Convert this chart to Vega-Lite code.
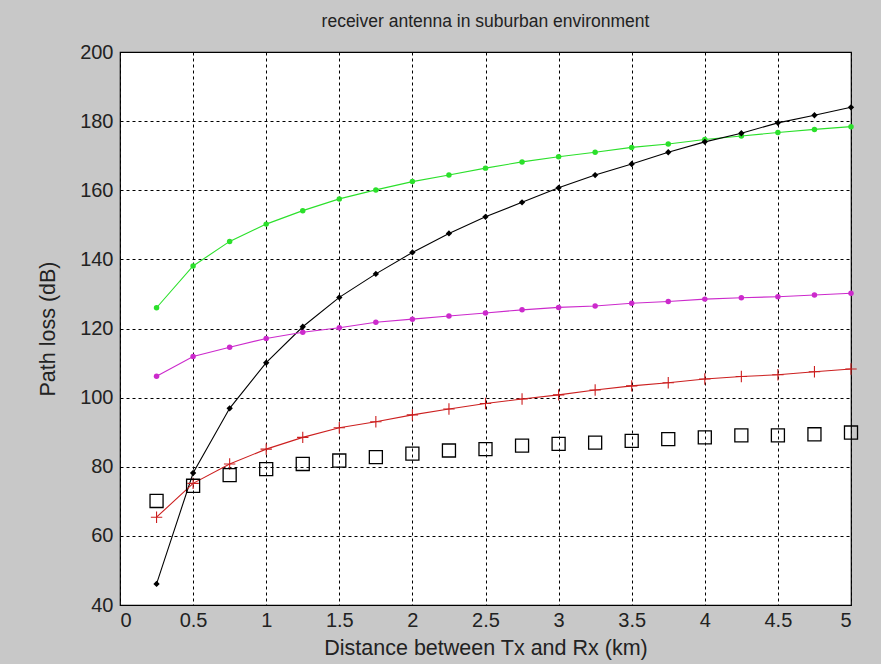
{
  "$schema": "https://vega.github.io/schema/vega-lite/v6.json",
  "width": 731,
  "height": 553,
  "autosize": {"type": "none"},
  "padding": {"left": 120, "top": 52, "right": 30, "bottom": 59},
  "background": "#c8c8c8",
  "title": {"text": "receiver antenna in suburban environment", "fontSize": 17.5, "fontWeight": "normal", "font": "Liberation Sans", "color": "#222222", "offset": 12},
  "data": {"values": [
    {"d":0.25,"loss":126.0,"s":"green"},{"d":0.5,"loss":138.1,"s":"green"},{"d":0.75,"loss":145.2,"s":"green"},{"d":1.0,"loss":150.2,"s":"green"},{"d":1.25,"loss":154.1,"s":"green"},{"d":1.5,"loss":157.5,"s":"green"},{"d":1.75,"loss":160.1,"s":"green"},{"d":2.0,"loss":162.5,"s":"green"},{"d":2.25,"loss":164.4,"s":"green"},{"d":2.5,"loss":166.4,"s":"green"},{"d":2.75,"loss":168.2,"s":"green"},{"d":3.0,"loss":169.7,"s":"green"},{"d":3.25,"loss":171.0,"s":"green"},{"d":3.5,"loss":172.4,"s":"green"},{"d":3.75,"loss":173.4,"s":"green"},{"d":4.0,"loss":174.7,"s":"green"},{"d":4.25,"loss":175.7,"s":"green"},{"d":4.5,"loss":176.7,"s":"green"},{"d":4.75,"loss":177.6,"s":"green"},{"d":5.0,"loss":178.4,"s":"green"},
    {"d":0.25,"loss":46.1,"s":"black"},{"d":0.5,"loss":78.2,"s":"black"},{"d":0.75,"loss":96.9,"s":"black"},{"d":1.0,"loss":110.1,"s":"black"},{"d":1.25,"loss":120.5,"s":"black"},{"d":1.5,"loss":129.0,"s":"black"},{"d":1.75,"loss":135.8,"s":"black"},{"d":2.0,"loss":142.0,"s":"black"},{"d":2.25,"loss":147.5,"s":"black"},{"d":2.5,"loss":152.3,"s":"black"},{"d":2.75,"loss":156.5,"s":"black"},{"d":3.0,"loss":160.7,"s":"black"},{"d":3.25,"loss":164.4,"s":"black"},{"d":3.5,"loss":167.6,"s":"black"},{"d":3.75,"loss":171.0,"s":"black"},{"d":4.0,"loss":174.0,"s":"black"},{"d":4.25,"loss":176.5,"s":"black"},{"d":4.5,"loss":179.5,"s":"black"},{"d":4.75,"loss":181.7,"s":"black"},{"d":5.0,"loss":184.0,"s":"black"},
    {"d":0.25,"loss":106.2,"s":"magenta"},{"d":0.5,"loss":111.9,"s":"magenta"},{"d":0.75,"loss":114.6,"s":"magenta"},{"d":1.0,"loss":117.1,"s":"magenta"},{"d":1.25,"loss":118.9,"s":"magenta"},{"d":1.5,"loss":120.2,"s":"magenta"},{"d":1.75,"loss":121.8,"s":"magenta"},{"d":2.0,"loss":122.7,"s":"magenta"},{"d":2.25,"loss":123.6,"s":"magenta"},{"d":2.5,"loss":124.5,"s":"magenta"},{"d":2.75,"loss":125.4,"s":"magenta"},{"d":3.0,"loss":126.1,"s":"magenta"},{"d":3.25,"loss":126.5,"s":"magenta"},{"d":3.5,"loss":127.3,"s":"magenta"},{"d":3.75,"loss":127.8,"s":"magenta"},{"d":4.0,"loss":128.5,"s":"magenta"},{"d":4.25,"loss":128.9,"s":"magenta"},{"d":4.5,"loss":129.2,"s":"magenta"},{"d":4.75,"loss":129.7,"s":"magenta"},{"d":5.0,"loss":130.2,"s":"magenta"},
    {"d":0.25,"loss":65.4,"s":"red"},{"d":0.5,"loss":75.2,"s":"red"},{"d":0.75,"loss":80.8,"s":"red"},{"d":1.0,"loss":85.1,"s":"red"},{"d":1.25,"loss":88.5,"s":"red"},{"d":1.5,"loss":91.3,"s":"red"},{"d":1.75,"loss":93.0,"s":"red"},{"d":2.0,"loss":95.0,"s":"red"},{"d":2.25,"loss":96.7,"s":"red"},{"d":2.5,"loss":98.3,"s":"red"},{"d":2.75,"loss":99.6,"s":"red"},{"d":3.0,"loss":100.8,"s":"red"},{"d":3.25,"loss":102.2,"s":"red"},{"d":3.5,"loss":103.4,"s":"red"},{"d":3.75,"loss":104.3,"s":"red"},{"d":4.0,"loss":105.4,"s":"red"},{"d":4.25,"loss":106.1,"s":"red"},{"d":4.5,"loss":106.6,"s":"red"},{"d":4.75,"loss":107.5,"s":"red"},{"d":5.0,"loss":108.3,"s":"red"},
    {"d":0.25,"loss":70.1,"s":"square"},{"d":0.5,"loss":74.5,"s":"square"},{"d":0.75,"loss":77.6,"s":"square"},{"d":1.0,"loss":79.3,"s":"square"},{"d":1.25,"loss":80.8,"s":"square"},{"d":1.5,"loss":81.8,"s":"square"},{"d":1.75,"loss":82.8,"s":"square"},{"d":2.0,"loss":83.8,"s":"square"},{"d":2.25,"loss":84.7,"s":"square"},{"d":2.5,"loss":85.1,"s":"square"},{"d":2.75,"loss":86.1,"s":"square"},{"d":3.0,"loss":86.6,"s":"square"},{"d":3.25,"loss":87.0,"s":"square"},{"d":3.5,"loss":87.5,"s":"square"},{"d":3.75,"loss":88.0,"s":"square"},{"d":4.0,"loss":88.5,"s":"square"},{"d":4.25,"loss":89.1,"s":"square"},{"d":4.5,"loss":89.1,"s":"square"},{"d":4.75,"loss":89.4,"s":"square"},{"d":5.0,"loss":89.9,"s":"square"}
  ]},
  "encoding": {
    "x": {"field": "d", "type": "quantitative", "title": "Distance between Tx and Rx (km)",
          "scale": {"domain": [0, 5], "nice": false},
          "axis": {"values": [0,0.5,1,1.5,2,2.5,3,3.5,4,4.5,5], "format": "~g", "labelPadding": 5, "titlePadding": 7}},
    "y": {"field": "loss", "type": "quantitative", "title": "Path loss (dB)",
          "scale": {"domain": [40, 200], "nice": false},
          "axis": {"values": [40,60,80,100,120,140,160,180,200], "labelPadding": 7, "titlePadding": 20}},
    "color": {"field": "s", "type": "nominal", "legend": null,
              "scale": {"domain": ["green","black","magenta","red","square"], "range": ["#2be02b","#000000","#cc2acc","#cc1f1f","#000000"]}}
  },
  "layer": [
    {"transform": [{"filter": "datum.s !== 'square'"}], "mark": {"type": "line", "strokeWidth": 1.1}},
    {"transform": [{"filter": {"field": "s", "oneOf": ["green","magenta"]}}], "mark": {"type": "point", "shape": "circle", "filled": true, "size": 30, "opacity": 1}},
    {"transform": [{"filter": {"field": "s", "equal": "black"}}], "mark": {"type": "point", "shape": "diamond", "filled": true, "size": 40, "opacity": 1}},
    {"transform": [{"filter": {"field": "s", "equal": "red"}}], "mark": {"type": "point", "shape": "M-1,0L1,0M0,-1L0,1", "filled": false, "size": 130, "strokeWidth": 1.1, "opacity": 1}},
    {"transform": [{"filter": {"field": "s", "equal": "square"}}], "mark": {"type": "point", "shape": "square", "filled": false, "size": 170, "strokeWidth": 1.3, "opacity": 1}}
  ],
  "config": {
    "view": {"fill": "#ffffff", "stroke": "#000000", "strokeWidth": 1.2},
    "axis": {"domain": false, "ticks": false, "grid": true, "gridColor": "#000000", "gridDash": [3, 3], "gridOpacity": 1, "gridWidth": 1,
             "labelFont": "Liberation Sans", "labelFontSize": 20, "labelColor": "#222222",
             "titleFont": "Liberation Sans", "titleFontSize": 21.5, "titleFontWeight": "normal", "titleColor": "#222222"}
  }
}
